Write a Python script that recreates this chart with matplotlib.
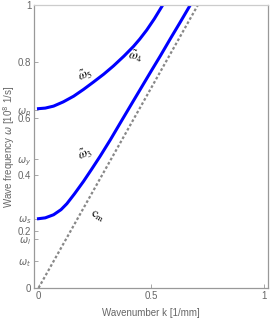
import matplotlib
matplotlib.use("Agg")
import matplotlib.pyplot as plt

plt.rcParams["font.family"] = ["Liberation Sans", "DejaVu Sans"]
plt.rcParams["mathtext.fontset"] = "dejavusans"

# branch omega_5 / omega_4 (upper)
k_upper = [0.0, 0.03, 0.067, 0.11, 0.156, 0.20, 0.244, 0.29, 0.333,
           0.38, 0.422, 0.45, 0.481, 0.515, 0.548]
w_upper = [0.634, 0.636, 0.643, 0.658, 0.678, 0.702, 0.728, 0.756, 0.785,
           0.820, 0.854, 0.880, 0.912, 0.952, 0.995]

# branch omega_3 (lower)
k_lower = [0.0, 0.03, 0.067, 0.10, 0.126, 0.16, 0.20, 0.237, 0.274, 0.32,
           0.363, 0.41, 0.452, 0.50, 0.541, 0.585, 0.630, 0.686]
w_lower = [0.245, 0.248, 0.259, 0.277, 0.298, 0.333, 0.377, 0.421, 0.466,
           0.525, 0.583, 0.646, 0.702, 0.766, 0.820, 0.880, 0.940, 1.016]

# c_m light line
k_cm = [0.0, 0.708]
w_cm = [0.0, 1.0]

yticks_num = [0, 0.2, 0.4, 0.6, 0.8, 1]
ytick_num_labels = ["0", "0.2", "0.4", "0.6", "0.8", "1"]
yticks_w = [0.096, 0.174, 0.245, 0.456, 0.629]
ytick_w_labels = [r"$\omega_t$", r"$\omega_l$", r"$\omega_s$", r"$\omega_y$", r"$\omega_p$"]

xticks = [0, 0.5, 1]
xtick_labels = ["0", "0.5", "1"]

grey = "#666666"

fig = plt.figure(figsize=(2.71, 3.21), dpi=100)
ax = fig.add_axes([0.1255, 0.1028, 0.8635, 0.8812])

ax.plot(k_cm, w_cm, color="#888888", lw=1.6, ls=(0, (1.2, 1.0)))
ax.plot(k_upper, w_upper, color="#0000ff", lw=2.2, solid_joinstyle="round")
ax.plot(k_lower, w_lower, color="#0000ff", lw=2.2, solid_joinstyle="round")

ax.set_xlim(-0.02, 1.02)
ax.set_ylim(0, 1)

ax.set_xticks(xticks)
ax.set_xticklabels(xtick_labels)
ax.set_yticks(yticks_num + yticks_w)
ax.set_yticklabels(ytick_num_labels + ytick_w_labels)
ax.tick_params(direction="in", length=3, width=0.6, colors="#999999",
               labelcolor=grey, labelsize=7, pad=2)

for side in ["left", "bottom", "right"]:
    ax.spines[side].set_color("#999999")
    ax.spines[side].set_linewidth(0.9)
ax.spines["top"].set_color("#cccccc")
ax.spines["top"].set_linewidth(0.9)

ax.set_xlabel("Wavenumber k [1/mm]", color=grey, fontsize=7, labelpad=5)
ax.set_ylabel(r"Wave frequency $\omega$ [10$^8$ 1/s]", color=grey, fontsize=7, labelpad=0)

lab = dict(fontsize=9, ha="center", va="center", math_fontfamily="stix")
ax.text(0.207, 0.752, r"$\tilde{\omega}_5$", rotation=25, **lab)
ax.text(0.43, 0.818, r"$\tilde{\omega}_4$", rotation=-8, **lab)
ax.text(0.207, 0.472, r"$\tilde{\omega}_3$", rotation=25, **lab)
ax.text(0.262, 0.252, r"$\mathrm{c_m}$", rotation=-30, **lab)

fig.savefig("out.png", dpi=100)
